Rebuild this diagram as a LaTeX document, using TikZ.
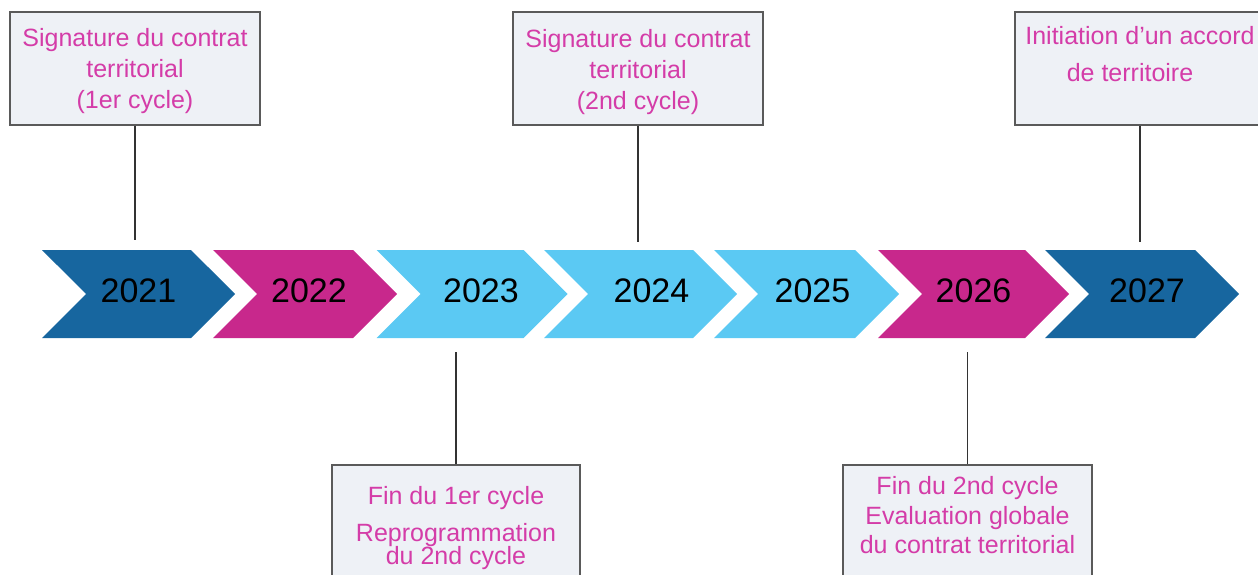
\documentclass[tikz,border=0pt]{standalone}
\usepackage{fontspec}
\setmainfont{Liberation Sans}
\usetikzlibrary{shapes.symbols}
\definecolor{deepblue}{HTML}{17669F}
\definecolor{magenta}{HTML}{C8288C}
\definecolor{skyblue}{HTML}{5BC9F3}
\definecolor{boxfill}{HTML}{EEF1F6}
\definecolor{boxline}{HTML}{5A5A5A}
\definecolor{pinktext}{HTML}{D43CA8}
\definecolor{linegray}{HTML}{333333}
\newcommand{\eventtext}[2]{\parbox[c][113pt][t]{248pt}{\centering\vspace*{#1}#2\par}}

\begin{document}
\begin{tikzpicture}[x=1pt, y=-1pt,
  year/.style={shape=signal, signal to=east, signal from=west, fill=#1, minimum height=88pt, inner sep=0pt, text height=24pt, text depth=7pt, font=\fontsize{34}{40}\selectfont},
  event/.style={draw=boxline, line width=1.5pt, fill=boxfill, text=pinktext, minimum width=250pt, inner sep=0pt, font=\fontsize{25}{31}\selectfont},
  link/.style={draw=linegray, line width=1.5pt}]
\clip (0,0) rectangle (1258,575);
% years
\node[year=deepblue, minimum width=193pt] (y2021) at (138.5,294) {2021};
\node[year=magenta, minimum width=184pt] (y2022) at (305,294) {\hspace*{8pt}2022};
\node[year=skyblue, minimum width=191pt] (y2023) at (472,294) {\hspace*{18pt}2023};
\node[year=skyblue, minimum width=193pt] (y2024) at (640.5,294) {\hspace*{22pt}2024};
\node[year=skyblue, minimum width=185pt] (y2025) at (806.5,294) {\hspace*{12pt}2025};
\node[year=magenta, minimum width=191pt] (y2026) at (973.5,294) {2026};
\node[year=deepblue, minimum width=194pt] (y2027) at (1142,294) {\hspace*{10pt}2027};
% events
\node[event] (s2021) at (135,68.5) {\eventtext{16.7pt}{Signature du contrat\\territorial\\(1er cycle)}};
\node[event] (s2024) at (638,68.5) {\eventtext{17.7pt}{Signature du contrat\\territorial\\(2nd cycle)}};
\node[event] (a2027) at (1140,68.5) {\eventtext{14.7pt}{Initiation d'un accord\\[6pt]de territoire\hspace*{20pt}}};
\node[event, minimum width=248pt] (f2023) at (456,521.5) {\eventtext{21.7pt}{Fin du 1er cycle\\[6pt]Reprogrammation\\[-8pt]du 2nd cycle}};
\node[event, minimum width=249pt] (f2026) at (967.5,521.5) {\eventtext{11.7pt}{Fin du 2nd cycle\\[-1pt]Evaluation globale\\[-2pt]du contrat territorial}};
\path[link] (s2021) edge[shorten >=10pt] (s2021 |- y2021.north);
\path[link] (s2024) edge[shorten >=8pt] (s2024 |- y2024.north);
\path[link] (a2027) edge[shorten >=8pt] (a2027 |- y2027.north);
\path[link] (f2023) edge[shorten >=14pt] (f2023 |- y2023.south);
\path[link] (f2026) edge[shorten >=14pt] (f2026 |- y2026.south);
\end{tikzpicture}
\end{document}
